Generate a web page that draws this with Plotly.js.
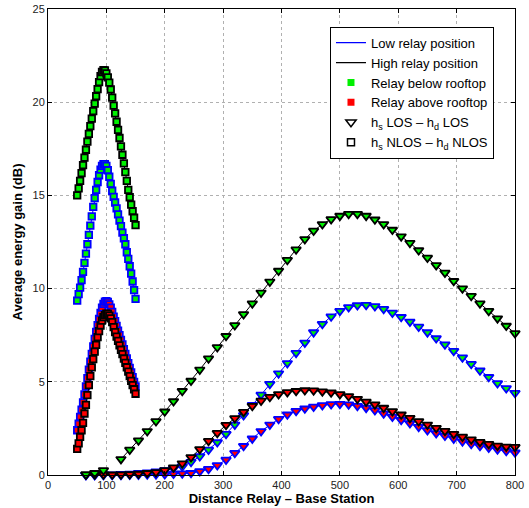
<!DOCTYPE html>
<html>
<head>
<meta charset="utf-8">
<script src="https://cdn.plot.ly/plotly-3.0.1.min.js"></script>
<style>html,body{margin:0;padding:0;background:#fff;}#chart{width:529px;height:508px;}</style>
</head>
<body>
<div id="chart"></div>
<script>
// ---- data ----
// LOS (triangles): distance grid
var xLOS = [65,80,95,110,125,140,155,170,185,200,215,230,245,260,275,290,305,320,335,350,365,380,395,410,425,440,455,470,485,500,515,530,545,560,575,590,605,620,635,650,665,680,695,710,725,740,755,770,785,800];
// High relay, below rooftop, LOS
var losHighBelow = [0.03,0.1,0.25,null,0.85,1.35,1.85,2.35,2.88,3.4,3.95,4.5,5.05,5.65,6.25,6.85,7.45,8.03,8.62,9.2,9.78,10.37,10.95,11.53,12.1,12.65,13.1,13.45,13.72,13.9,14.0,14.0,13.9,13.7,13.45,13.15,12.8,12.45,12.05,11.65,11.25,10.85,10.4,10.0,9.6,9.2,8.8,8.4,8.0,7.6];
// Low relay, below rooftop, LOS
var losLowBelow = [0,0,0.02,0.03,0.05,0.07,0.1,0.13,0.18,0.25,0.35,0.45,0.7,1.0,1.35,1.75,2.2,2.7,3.2,3.75,4.3,4.88,5.45,6.0,6.55,7.1,7.65,8.1,8.5,8.8,9.0,9.1,9.12,9.05,8.9,8.7,8.47,8.22,7.95,7.65,7.33,7.0,6.65,6.3,5.95,5.6,5.25,4.92,4.65,4.4];
// High relay, above rooftop, LOS
var losHighAbove = [0.02,0.02,0.02,0.02,0.03,0.04,0.06,0.1,0.15,0.25,0.4,0.62,0.95,1.38,1.82,2.25,2.68,3.04,3.38,3.7,3.98,4.18,4.33,4.44,4.5,4.54,4.53,4.48,4.42,4.33,4.22,4.08,3.93,3.78,3.6,3.42,3.24,3.06,2.88,2.7,2.52,2.36,2.2,2.05,1.9,1.77,1.66,1.57,1.52,1.5];
// Low relay, above rooftop, LOS
var losLowAbove = [0,0,0,0,0,0.01,0.01,0.02,0.03,0.04,0.06,0.08,0.1,0.2,0.32,0.52,0.82,1.18,1.55,1.95,2.35,2.7,3.0,3.24,3.43,3.56,3.66,3.74,3.79,3.81,3.78,3.7,3.6,3.47,3.3,3.12,2.95,2.77,2.58,2.4,2.24,2.1,1.95,1.8,1.66,1.55,1.46,1.37,1.28,1.2];

// NLOS (squares): distance grid
var xNLOS = [50,52.5,55,57.5,60,62.5,65,67.5,70,72.5,75,77.5,80,82.5,85,87.5,90,92.5,95,97.5,100,102.5,105,107.5,110,112.5,115,117.5,120,122.5,125,127.5,130,132.5,135,137.5,140,142.5,145,147.5,150];
var nlosHighBelow = [15.0,15.38,15.78,16.2,16.62,17.03,17.45,17.88,18.3,18.72,19.12,19.52,19.92,20.32,20.7,21.08,21.4,21.62,21.72,21.7,21.55,21.33,21.05,20.68,20.25,19.82,19.4,18.95,18.52,18.08,17.63,17.18,16.72,16.25,15.78,15.3,14.9,14.5,14.15,13.8,13.4];
var nlosLowBelow = [9.35,9.7,10.05,10.45,10.9,11.38,11.88,12.38,12.88,13.38,13.88,14.38,14.85,15.3,15.72,16.08,16.38,16.58,16.68,16.68,16.58,16.35,16.0,15.62,15.25,14.92,14.62,14.3,13.98,13.65,13.35,13.0,12.7,12.38,11.95,11.6,11.2,10.8,10.38,9.92,9.45];
var nlosHighAbove = [1.4,1.7,2.05,2.4,2.8,3.3,3.76,4.28,4.82,5.3,5.77,6.22,6.62,6.98,7.4,7.72,8.02,8.28,8.47,8.58,8.65,8.64,8.55,8.4,8.2,7.93,7.67,7.42,7.2,6.95,6.72,6.48,6.25,6.02,5.78,5.55,5.3,5.05,4.82,4.6,4.36];
var nlosLowAbove = [2.4,2.75,3.12,3.5,3.9,4.32,4.75,5.2,5.65,6.08,6.5,6.9,7.3,7.68,8.04,8.38,8.7,8.98,9.18,9.3,9.33,9.28,9.15,8.98,8.75,8.5,8.25,8.0,7.75,7.5,7.25,7.0,6.75,6.5,6.25,6.0,5.75,5.5,5.25,5.0,4.75];

var legendNames = ['Low relay position','High relay position','Relay below rooftop','Relay above rooftop',
  'h<sub>s</sub> LOS \u2013 h<sub>d</sub> LOS','h<sub>s</sub> NLOS \u2013 h<sub>d</sub> NLOS'];

var BLUE = '#0000ff', BLACK = '#000000', GREEN = '#00f000', RED = '#ff0000';

function series(x, y, edge, fill, symbol, size) {
  return {
    x: x, y: y, type: 'scatter', mode: 'lines+markers', showlegend: false, cliponaxis: false,
    line: {color: edge, width: 1},
    marker: {symbol: symbol, size: size, color: fill, line: {color: edge, width: 1.8}},
    hoverinfo: 'skip'
  };
}

var TRI = 'triangle-down', SQ = 'square';
var traces = [
  series(xLOS, losLowBelow, BLUE, GREEN, TRI, 8.5),
  series(xLOS, losLowAbove, BLUE, RED, TRI, 8.5),
  series(xNLOS, nlosLowBelow, BLUE, GREEN, SQ, 6.5),
  series(xNLOS, nlosLowAbove, BLUE, RED, SQ, 6.5),
  series(xLOS, losHighAbove, BLACK, RED, TRI, 8.5),
  series(xLOS, losHighBelow, BLACK, GREEN, TRI, 8.5),
  series(xNLOS, nlosHighBelow, BLACK, GREEN, SQ, 6.5),
  series(xNLOS, nlosHighAbove, BLACK, RED, SQ, 6.5)
];

// legend-only entries
traces.push({x:[null], y:[null], type:'scatter', mode:'lines', name: legendNames[0], line:{color:BLUE, width:1.3}});
traces.push({x:[null], y:[null], type:'scatter', mode:'lines', name: legendNames[1], line:{color:BLACK, width:1.3}});
traces.push({x:[null], y:[null], type:'scatter', mode:'markers', name: legendNames[2], marker:{symbol:'square', size:7, color:GREEN, line:{width:0}}});
traces.push({x:[null], y:[null], type:'scatter', mode:'markers', name: legendNames[3], marker:{symbol:'square', size:7, color:RED, line:{width:0}}});
traces.push({x:[null], y:[null], type:'scatter', mode:'markers', name: legendNames[4], marker:{symbol:'triangle-down-open', size:9, color:BLACK, line:{width:1.5}}});
traces.push({x:[null], y:[null], type:'scatter', mode:'markers', name: legendNames[5], marker:{symbol:'square-open', size:7, color:BLACK, line:{width:1.5}}});

var FONT = 'Liberation Sans, Arial, Helvetica, sans-serif';
var layout = {
  width: 529, height: 508,
  margin: {l: 48, r: 14, t: 9, b: 33, pad: 0},
  paper_bgcolor: '#fff', plot_bgcolor: '#fff',
  font: {family: FONT, size: 11, color: '#000'},
  showlegend: true,
  legend: {
    x: 0.955, xanchor: 'right', y: 0.962, yanchor: 'top',
    bgcolor: '#fff', bordercolor: '#000', borderwidth: 1,
    font: {family: FONT, size: 13, color: '#000'},
    itemwidth: 30, tracegroupgap: 0
  },
  xaxis: {
    range: [0, 800], dtick: 100, tick0: 0,
    showline: true, linecolor: '#000', linewidth: 1, mirror: 'ticks',
    ticks: 'inside', ticklen: 4, tickcolor: '#000',
    showgrid: true, gridcolor: '#b0b0b0', griddash: 'dot', gridwidth: 1,
    zeroline: false,
    tickfont: {family: FONT, size: 11, color: '#222'},
    title: {text: '<b>Distance Relay \u2013 Base Station</b>', font: {family: FONT, size: 13, color: '#000'}, standoff: 0}
  },
  yaxis: {
    range: [0, 25], dtick: 5, tick0: 0,
    showline: true, linecolor: '#000', linewidth: 1, mirror: 'ticks',
    ticks: 'inside', ticklen: 4, tickcolor: '#000',
    showgrid: true, gridcolor: '#b0b0b0', griddash: 'dot', gridwidth: 1,
    zeroline: false,
    tickfont: {family: FONT, size: 11, color: '#222'},
    title: {text: '<b>Average energy gain (dB)</b>', font: {family: FONT, size: 13, color: '#000'}, standoff: 6}
  }
};

Plotly.newPlot('chart', traces, layout, {displayModeBar: false, staticPlot: true});
</script>
</body>
</html>
